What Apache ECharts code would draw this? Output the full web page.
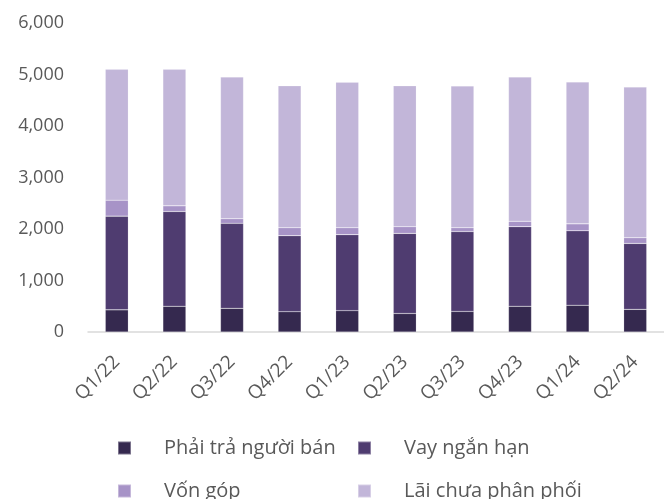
<!DOCTYPE html>
<html>
<head>
<meta charset="utf-8">
<script src="https://cdn.jsdelivr.net/npm/echarts@6/dist/echarts.min.js"></script>
<style>
  html, body { margin: 0; padding: 0; background: #fff; }
  #main { width: 664px; height: 499px; }
</style>
</head>
<body>
<div id="main"></div>
<script>
const categories = ['Q1/22', 'Q2/22', 'Q3/22', 'Q4/22', 'Q1/23', 'Q2/23', 'Q3/23', 'Q4/23', 'Q1/24', 'Q2/24'];
const phaiTra = [430, 500, 460, 395, 415, 360, 400, 500, 520, 440];
const vayNganHan = [1820, 1840, 1650, 1475, 1475, 1555, 1550, 1545, 1445, 1280];
const vonGop = [310, 110, 90, 155, 135, 130, 75, 105, 135, 110];
const laiChuaPhanPhoi = [2540, 2650, 2750, 2755, 2825, 2735, 2750, 2800, 2755, 2925];
const yTicks = [0, 1000, 2000, 3000, 4000, 5000, 6000];

const names = ['Phải trả người bán', 'Vay ngắn hạn', 'Vốn góp', 'Lãi chưa phân phối'];
const colors = ['#35294f', '#4f3c70', '#a793c7', '#c2b6d9'];
const values = [phaiTra, vayNganHan, vonGop, laiChuaPhanPhoi];
const font = '"Open Sans", "Noto Sans", sans-serif';

// one legend per item so the 2x2 layout can be placed by hand
const legendPos = [[112, 433], [352, 433], [112, 476], [352, 476]];
const legends = names.map((n, i) => ({
  data: [n],
  left: legendPos[i][0],
  top: legendPos[i][1],
  itemWidth: 13,
  itemHeight: 13,
  icon: 'rect',
  textStyle: { fontFamily: font, fontSize: 20, color: '#595959', padding: [0, 0, 0, 28] }
}));

const chart = echarts.init(document.getElementById('main'));
chart.setOption({
  animation: false,
  color: colors,
  legend: legends,
  grid: { left: 88, top: 23, width: 587, height: 309 },
  xAxis: {
    type: 'category',
    data: categories,
    axisLine: { lineStyle: { color: '#d9d9d9', width: 1.5 } },
    axisTick: { show: false },
    axisLabel: { rotate: 45, fontFamily: font, fontSize: 19, color: '#595959', margin: 27 }
  },
  yAxis: {
    type: 'value',
    min: yTicks[0],
    max: yTicks[yTicks.length - 1],
    interval: 1000,
    axisLine: { show: false },
    axisTick: { show: false },
    splitLine: { show: false },
    axisLabel: {
      fontFamily: font, fontSize: 18, color: '#595959', margin: 24,
      formatter: v => v.toLocaleString('en-US')
    }
  },
  series: names.map((n, i) => ({
    name: n,
    type: 'bar',
    stack: 'total',
    barWidth: 23,
    data: values[i],
    itemStyle: { color: colors[i], borderColor: 'rgba(255,255,255,0.35)', borderWidth: 0.5 }
  }))
});
</script>
</body>
</html>
